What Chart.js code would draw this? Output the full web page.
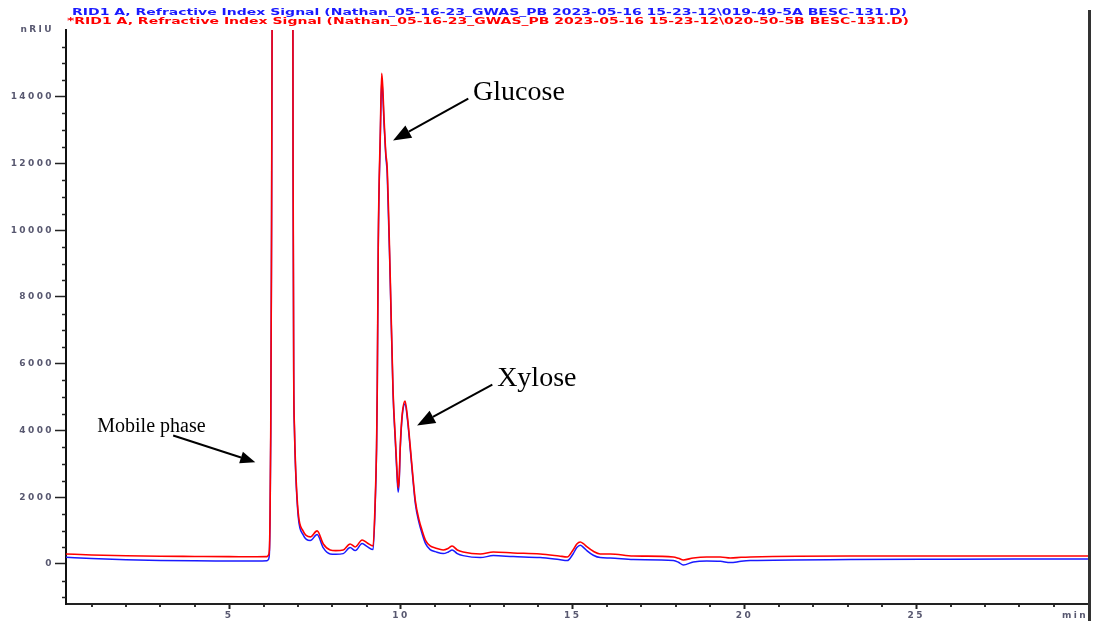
<!DOCTYPE html>
<html>
<head>
<meta charset="utf-8">
<script src="https://cdn.jsdelivr.net/npm/chart.js@4.4.0/dist/chart.umd.min.js"></script>
<style>
  html, body { margin: 0; padding: 0; background: #fff; }
  #wrap { width: 1094px; height: 623px; position: relative; }
</style>
</head>
<body>
<div id="wrap"><canvas id="myChart"></canvas></div>
<script>
// retention time, min
const times = [0.25, 1.0, 2.0, 3.0, 4.0, 5.0, 5.8, 6.10, 6.14, 6.17,
  6.19, 6.21, 6.23, 6.25, 6.28, 6.82, 6.84, 6.86, 6.88, 6.90,
  6.93, 7.01, 7.15, 7.36, 7.56, 7.74, 7.94, 8.10, 8.32, 8.52,
  8.67, 8.87, 9.02, 9.19, 9.25, 9.29, 9.31, 9.34, 9.40, 9.44,
  9.47, 9.51, 9.56, 9.60, 9.69, 9.77, 9.84, 9.89, 9.92, 9.95,
  9.98, 10.04, 10.12, 10.19, 10.27, 10.35, 10.42, 10.52, 10.62, 10.72,
  10.85, 11.0, 11.23, 11.38, 11.49, 11.64, 11.81, 12.31, 12.69, 13.27,
  14.05, 14.6, 14.84, 15.01, 15.12, 15.22, 15.32, 15.42, 15.6, 15.8,
  16.09, 16.76, 17.93, 18.08, 18.22, 18.51, 18.9, 19.3, 19.59, 19.9,
  20.17, 23.08, 26.0, 30.0];

// RID signal, nRIU (sample 019-49-5A)
const signal5A = [200, 160, 125, 105, 95, 90, 85, 95, 130, 300,
  1350, 3800, 8800, 16300, 40000, 40000, 30000, 11800, 5400, 4000,
  2900, 1420, 880, 700, 880, 480, 300, 290, 310, 490,
  400, 610, 520, 430, 1750, 3400, 5100, 9500, 12800, 14500,
  14100, 13150, 12200, 11700, 8400, 5100, 3600, 2550, 2150, 2500,
  3450, 4450, 4800, 4320, 3450, 2520, 1800, 1260, 890, 600,
  430, 370, 310, 360, 420, 310, 250, 190, 250, 220,
  190, 130, 100, 300, 490, 560, 490, 390, 260, 190,
  180, 130, 100, 50, -30, 60, 90, 80, 40, 80,
  100, 130, 140, 150];

// RID signal, nRIU (sample 020-50-5B)
const signal5B = [300, 270, 245, 230, 225, 220, 215, 220, 260, 420,
  1500, 4000, 9000, 16500, 40000, 40000, 30000, 12000, 5500, 4100,
  3000, 1530, 990, 810, 990, 600, 420, 400, 420, 600,
  510, 720, 630, 540, 1890, 3500, 5200, 9640, 12960, 14700,
  14300, 13300, 12300, 11860, 8530, 5200, 3700, 2700, 2280, 2600,
  3530, 4520, 4880, 4400, 3530, 2600, 1890, 1350, 990, 700,
  540, 480, 420, 470, 540, 420, 360, 300, 360, 330,
  300, 240, 210, 420, 600, 660, 600, 510, 380, 300,
  300, 240, 210, 170, 120, 180, 210, 210, 180, 200,
  210, 240, 240, 240];

const traceNames = [
  'RID1 A, Refractive Index Signal (Nathan_05-16-23_GWAS_PB 2023-05-16 15-23-12\\019-49-5A BESC-131.D)',
  '*RID1 A, Refractive Index Signal (Nathan_05-16-23_GWAS_PB 2023-05-16 15-23-12\\020-50-5B BESC-131.D)'
];
const traceColors = ['#1a1aff', '#ff0000'];

// axis ticks; the top y tick and the last x tick carry the units
const yTicks = [0, 2000, 4000, 6000, 8000, 10000, 12000, 14000, 16000];
const xTicks = [0.25, 5, 10, 15, 20, 25, 30];
const yUnit = 'nRIU';
const xUnit = 'min';

// peak callouts: text, text anchor, arrow tail, arrow tip (min, nRIU)
const peakNames = ['Mobile phase', 'Glucose', 'Xylose'];
const peakTextAt = [[1.16, 3940], [12.10, 13910], [12.80, 5340]];
const peakArrowFrom = [[3.37, 3850], [11.96, 13940], [12.66, 5370]];
const peakArrowTo = [[5.76, 3050], [9.77, 12690], [10.47, 4150]];
const peakFontSizes = [20, 28, 28];

function toPoints(ys) {
  return times.map((t, i) => ({ x: t, y: ys[i] }));
}

const tickFont = { family: 'DejaVu Sans', size: 9, weight: 'bold' };
const tickColor = '#585870';

const chromDecor = {
  id: 'chromDecor',
  beforeDraw(chart) {
    const ctx = chart.ctx;
    ctx.save();
    ctx.fillStyle = '#fff';
    ctx.fillRect(0, 0, chart.width, chart.height);
    ctx.restore();
    // wide axis numbers
    ctx.letterSpacing = '2.4px';
  },
  afterDraw(chart) {
    const ctx = chart.ctx;
    ctx.letterSpacing = '0px';
    const xs = chart.scales.x, ys = chart.scales.y;
    const area = chart.chartArea;

    ctx.save();
    // minor ticks on y every 500
    ctx.strokeStyle = '#222';
    ctx.lineWidth = 1.5;
    for (let v = -1000; v < ys.max; v += 500) {
      if (v % 2000 === 0) continue;
      const py = Math.round(ys.getPixelForValue(v)) + 0.5;
      ctx.beginPath();
      ctx.moveTo(area.left - 4, py);
      ctx.lineTo(area.left, py);
      ctx.stroke();
    }
    // minor ticks on x every minute
    ctx.fillStyle = '#333';
    for (let m = 1; m < 30; m++) {
      if (m % 5 === 0) continue;
      const px = Math.round(xs.getPixelForValue(m));
      ctx.fillRect(px - 1, area.bottom + 1, 2, 2);
    }
    // right frame line
    ctx.fillRect(area.right, 10, 3, 611);

    // trace titles
    ctx.font = 'bold 9px "DejaVu Sans"';
    ctx.textBaseline = 'middle';
    const titleBox = [[72, 907, 13], [67, 909, 22]];
    traceNames.forEach((name, i) => {
      const w = ctx.measureText(name).width;
      const [x0, x1, y] = titleBox[i];
      ctx.save();
      ctx.translate(x0, y);
      ctx.scale((x1 - x0) / w, 1);
      ctx.fillStyle = traceColors[i];
      ctx.fillText(name, 0, 0);
      ctx.restore();
    });

    // peak callouts
    ctx.fillStyle = '#000';
    ctx.strokeStyle = '#000';
    ctx.textBaseline = 'alphabetic';
    ctx.textAlign = 'left';
    peakNames.forEach((name, i) => {
      ctx.font = peakFontSizes[i] + 'px "Liberation Serif"';
      ctx.fillText(name, xs.getPixelForValue(peakTextAt[i][0]), ys.getPixelForValue(peakTextAt[i][1]));

      const x0 = xs.getPixelForValue(peakArrowFrom[i][0]);
      const y0 = ys.getPixelForValue(peakArrowFrom[i][1]);
      const x1 = xs.getPixelForValue(peakArrowTo[i][0]);
      const y1 = ys.getPixelForValue(peakArrowTo[i][1]);
      const ang = Math.atan2(y1 - y0, x1 - x0);
      const headLen = i === 0 ? 15 : 18;
      const headHalf = i === 0 ? 6 : 7;
      const bx = x1 - headLen * Math.cos(ang);
      const by = y1 - headLen * Math.sin(ang);
      ctx.lineWidth = 2;
      ctx.beginPath();
      ctx.moveTo(x0, y0);
      ctx.lineTo(bx, by);
      ctx.stroke();
      ctx.beginPath();
      ctx.moveTo(x1, y1);
      ctx.lineTo(bx + headHalf * Math.sin(ang), by - headHalf * Math.cos(ang));
      ctx.lineTo(bx - headHalf * Math.sin(ang), by + headHalf * Math.cos(ang));
      ctx.closePath();
      ctx.fill();
    });
    ctx.restore();
  }
};

const chart = new Chart(document.getElementById('myChart'), {
  type: 'line',
  data: {
    datasets: [
      {
        label: traceNames[0],
        data: toPoints(signal5A),
        borderColor: traceColors[0],
        borderWidth: 1.5,
        pointRadius: 0,
        cubicInterpolationMode: 'monotone',
        order: 1
      },
      {
        label: traceNames[1],
        data: toPoints(signal5B),
        borderColor: traceColors[1],
        borderWidth: 1.6,
        pointRadius: 0,
        cubicInterpolationMode: 'monotone',
        order: 0
      }
    ]
  },
  options: {
    responsive: true,
    maintainAspectRatio: false,
    animation: false,
    layout: { padding: { top: 30, right: 6, left: 0, bottom: 0 } },
    plugins: {
      legend: { display: false },
      tooltip: { enabled: false }
    },
    scales: {
      x: {
        type: 'linear',
        min: 0.25,
        max: 30,
        afterBuildTicks: (s) => { s.ticks = xTicks.map(v => ({ value: v })); },
        ticks: {
          align: 'inner',
          autoSkip: false,
          maxRotation: 0,
          padding: 1,
          color: tickColor,
          font: tickFont,
          callback: (v) => v === 30 ? xUnit : (v % 5 === 0 ? String(v) : '')
        },
        grid: {
          display: true,
          drawOnChartArea: false,
          tickLength: 5,
          tickWidth: 2,
          tickColor: (c) => (c.tick && c.tick.value % 5 === 0 && c.tick.value < 30) ? '#222' : 'rgba(0,0,0,0)'
        },
        border: { color: '#222', width: 2 },
        afterFit: (s) => { s.height = 19; }
      },
      y: {
        min: -1200,
        max: 16000,
        afterBuildTicks: (s) => { s.ticks = yTicks.map(v => ({ value: v })); },
        ticks: {
          autoSkip: false,
          padding: 1,
          color: tickColor,
          font: tickFont,
          callback: (v) => v >= 16000 ? yUnit : String(v)
        },
        grid: {
          display: true,
          drawOnChartArea: false,
          tickLength: 11,
          tickWidth: 1.5,
          tickColor: (c) => (c.tick && c.tick.value >= 16000) ? 'rgba(0,0,0,0)' : '#222'
        },
        border: { color: '#111', width: 2 },
        afterFit: (s) => { s.width = 66; }
      }
    }
  },
  plugins: [chromDecor]
});
</script>
</body>
</html>
